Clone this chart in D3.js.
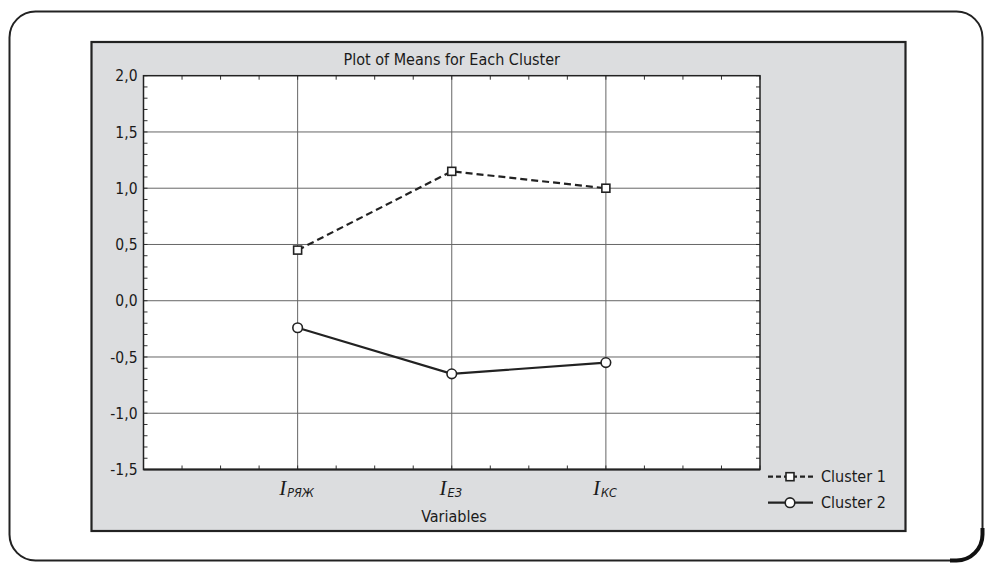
<!DOCTYPE html>
<html><head><meta charset="utf-8">
<script src="https://cdn.jsdelivr.net/npm/d3@7"></script>
<style>
html,body{margin:0;padding:0;background:#fff;}
svg{display:block;}
text{font-family:"DejaVu Sans Condensed","Liberation Sans Narrow","Noto Sans",sans-serif;fill:#1a1a1a;}
</style></head>
<body>
<svg id="chart" width="985" height="563"></svg>
<script>
// ---- data ----
const categories = ["РЯЖ", "ЕЗ", "КС"];
const cluster1 = [0.45, 1.15, 1.00];
const cluster2 = [-0.24, -0.65, -0.55];
const seriesNames = ["Cluster 1", "Cluster 2"];
const yTicks = [-1.5, -1.0, -0.5, 0.0, 0.5, 1.0, 1.5, 2.0];
const title = "Plot of Means for Each Cluster";
const xTitle = "Variables";

const svg = d3.select("#chart");

// outer rounded frame
svg.append("rect").attr("x", 9.5).attr("y", 11.5).attr("width", 973).attr("height", 549)
  .attr("rx", 26).attr("ry", 26).attr("fill", "#fff").attr("stroke", "#222").attr("stroke-width", 2);
// darker bottom-right corner shading
svg.append("path").attr("d", "M 950 560.5 L 956.5 560.5 A 26 26 0 0 0 982.5 534.5 L 982.5 528")
  .attr("fill", "none").attr("stroke", "#111").attr("stroke-width", 4);

// grey panel
svg.append("rect").attr("x", 91.5).attr("y", 42).attr("width", 814).attr("height", 489)
  .attr("fill", "#dcdddf").attr("stroke", "#222").attr("stroke-width", 2.2);

const L = 143.5, R = 760, T = 75.7, B = 469.5;
const x = d3.scaleLinear().domain([0, categories.length + 1]).range([L, R]);
const y = d3.scaleLinear().domain([-1.5, 2.0]).range([B, T]);

// plot area
svg.append("rect").attr("x", L).attr("y", T).attr("width", R - L).attr("height", B - T).attr("fill", "#fff");

// grid
const g = svg.append("g");
g.selectAll(".hg").data(yTicks.slice(1, -1)).enter().append("line")
  .attr("x1", L).attr("x2", R).attr("y1", d => y(d)).attr("y2", d => y(d))
  .attr("stroke", "#666").attr("stroke-width", 1);
g.selectAll(".vg").data(categories).enter().append("line")
  .attr("x1", (d, i) => x(i + 1)).attr("x2", (d, i) => x(i + 1)).attr("y1", T).attr("y2", B)
  .attr("stroke", "#666").attr("stroke-width", 1);

// minor ticks
const xMinor = d3.range(0, (categories.length + 1) * 4 + 1).map(k => k / 4);
const yMinor = d3.range(-15, 21).map(k => k / 10);
const tk = 4;
g.selectAll(".xmb").data(xMinor).enter().append("line")
  .attr("x1", d => x(d)).attr("x2", d => x(d)).attr("y1", B).attr("y2", B - tk)
  .attr("stroke", "#333").attr("stroke-width", 1);
g.selectAll(".xmt").data(xMinor).enter().append("line")
  .attr("x1", d => x(d)).attr("x2", d => x(d)).attr("y1", T).attr("y2", T + tk)
  .attr("stroke", "#333").attr("stroke-width", 1);
g.selectAll(".yml").data(yMinor).enter().append("line")
  .attr("x1", L).attr("x2", L + tk).attr("y1", d => y(d)).attr("y2", d => y(d))
  .attr("stroke", "#333").attr("stroke-width", 1);
g.selectAll(".ymr").data(yMinor).enter().append("line")
  .attr("x1", R).attr("x2", R - tk).attr("y1", d => y(d)).attr("y2", d => y(d))
  .attr("stroke", "#333").attr("stroke-width", 1);

// plot border
svg.append("rect").attr("x", L).attr("y", T).attr("width", R - L).attr("height", B - T)
  .attr("fill", "none").attr("stroke", "#222").attr("stroke-width", 1.5);
svg.append("line").attr("x1", L).attr("x2", R).attr("y1", B).attr("y2", B)
  .attr("stroke", "#222").attr("stroke-width", 2.2);

// y labels
svg.selectAll(".yl").data(yTicks).enter().append("text")
  .attr("x", L - 6).attr("y", d => y(d)).attr("dy", "0.36em")
  .attr("text-anchor", "end").attr("font-size", 15.5)
  .text(d => d3.format(".1f")(d).replace(".", ",").replace("−", "-"));

// x labels
const xl = svg.selectAll(".xl").data(categories).enter().append("text")
  .attr("x", (d, i) => x(i + 1) - 1).attr("y", 495).attr("text-anchor", "middle");
xl.append("tspan").attr("font-family", "Liberation Serif, serif").attr("font-style", "italic")
  .attr("font-size", 21).text("I");
xl.append("tspan").attr("font-style", "italic").attr("font-size", 12.5).attr("dy", 1.5).attr("dx", 1)
  .text(d => d);

// title and axis title
svg.append("text").attr("x", (L + R) / 2).attr("y", 65).attr("text-anchor", "middle")
  .attr("font-size", 16).text(title);
svg.append("text").attr("x", 454).attr("y", 522).attr("text-anchor", "middle")
  .attr("font-size", 16).text(xTitle);

// series
const series = [
  { name: seriesNames[0], values: cluster1, dash: "7,4", marker: "square" },
  { name: seriesNames[1], values: cluster2, dash: null, marker: "circle" }
];
const line = d3.line().x((d, i) => x(i + 1)).y(d => y(d));
function drawMarker(sel, type, cx, cy) {
  if (type === "square") {
    sel.append("rect").attr("x", cx - 4).attr("y", cy - 4).attr("width", 8).attr("height", 8)
      .attr("fill", "#fff").attr("stroke", "#222").attr("stroke-width", 1.6);
  } else {
    sel.append("circle").attr("cx", cx).attr("cy", cy).attr("r", 4.8)
      .attr("fill", "#fff").attr("stroke", "#222").attr("stroke-width", 1.6);
  }
}
series.forEach(s => {
  svg.append("path").datum(s.values).attr("d", line).attr("fill", "none")
    .attr("stroke", "#222").attr("stroke-width", 2.2)
    .attr("stroke-dasharray", s.dash);
  s.values.forEach((v, i) => drawMarker(svg, s.marker, x(i + 1), y(v)));
});

// legend
series.forEach((s, i) => {
  const ly = 476.7 + i * 26;
  svg.append("line").attr("x1", 768).attr("x2", 813).attr("y1", ly).attr("y2", ly)
    .attr("stroke", "#222").attr("stroke-width", 2.2).attr("stroke-dasharray", s.dash ? "5,3" : null);
  drawMarker(svg, s.marker, 790, ly);
  svg.append("text").attr("x", 821).attr("y", ly).attr("dy", "0.36em")
    .attr("font-size", 16).text(s.name);
});
</script>
</body></html>
